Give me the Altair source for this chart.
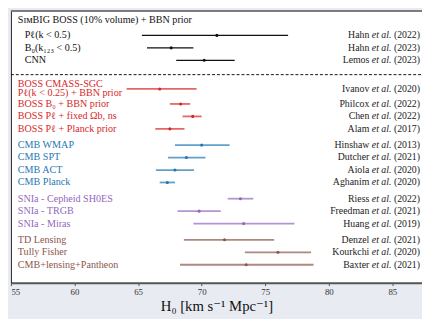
import altair as alt
import pandas as pd

labels = ["Pℓ(k < 0.5)", "B₀(k₁₂₃ < 0.5)", "CNN",
          "BOSS CMASS-SGC\nPℓ(k < 0.25) + BBN prior", "BOSS B₀ + BBN prior",
          "BOSS Pℓ + fixed Ωb, ns", "BOSS Pℓ + Planck prior",
          "CMB WMAP", "CMB SPT", "CMB ACT", "CMB Planck",
          "SNIa - Cepheid SH0ES", "SNIa - TRGB", "SNIa - Miras",
          "TD Lensing", "Tully Fisher", "CMB+lensing+Pantheon"]
authors = ["Hahn", "Hahn", "Lemos", "Ivanov", "Philcox", "Chen", "Alam",
           "Hinshaw", "Dutcher", "Aiola", "Aghanim", "Riess", "Freedman", "Huang",
           "Denzel", "Kourkchi", "Baxter"]
years = [2022, 2023, 2023, 2020, 2022, 2022, 2017, 2013, 2021, 2020, 2020,
         2022, 2021, 2019, 2021, 2020, 2021]
groups = ["SimBIG"] * 3 + ["BOSS"] * 4 + ["CMB"] * 4 + ["SNIa"] * 3 + ["Other"] * 3
h0 = [71.2, 67.6, 70.2, 66.7, 68.35, 69.3, 67.5, 70.0, 68.8, 67.9, 67.3,
      73.05, 69.8, 73.3, 71.8, 76.0, 73.5]
h0_lo = [65.3, 65.7, 68.0, 64.1, 67.5, 68.5, 66.35, 67.9, 67.35, 66.4, 66.7,
         72.05, 68.1, 69.35, 68.6, 73.4, 68.3]
h0_hi = [76.8, 69.35, 72.6, 69.6, 69.1, 70.0, 68.65, 72.2, 70.3, 69.4, 67.9,
         74.06, 71.5, 77.3, 75.7, 78.6, 78.8]
title_text = "SɪᴍBIG BOSS (10% volume) + BBN prior"

group_order = ["SimBIG", "BOSS", "CMB", "SNIa", "Other"]
group_colors = ["#111111", "#d62728", "#1f77b4", "#9467bd", "#8c564b"]

# vertical slot of each row (row order with extra gaps between groups)
slots = []
for i, g in enumerate(groups):
    gi = group_order.index(g)
    s = i + 0.3 * gi + (1.0 if gi >= 1 else 0.0) + (0.2 if i >= 4 else 0.0)
    slots.append(s)

df = pd.DataFrame({
    "label": labels, "author": authors, "year": [f"({y})" for y in years],
    "group": groups, "h0": h0, "lo": h0_lo, "hi": h0_hi, "slot": slots,
})
df["multi"] = df["label"].str.contains("\n")

W, H = 419, 277
FONT = "Liberation Serif, DejaVu Serif, serif"

xscale = alt.Scale(domain=[55, 55 + W / 12.96], nice=False, zero=False)
yscale = alt.Scale(domain=[-1.96, 19.84], nice=False, zero=False, reverse=True)
cscale = alt.Scale(domain=group_order, range=group_colors)

base = alt.Chart(df)

y_enc = alt.Y("slot:Q", scale=yscale,
              axis=alt.Axis(labels=False, ticks=False, title=None, grid=False,
                            domainColor="#222222", domainWidth=1))

bars_black = base.transform_filter(alt.datum.group == "SimBIG").mark_rule(
    strokeWidth=1.3).encode(
    x=alt.X("lo:Q", scale=xscale,
            axis=alt.Axis(values=[55, 60, 65, 70, 75, 80, 85], grid=False,
                          title="H₀ [km s⁻¹ Mpc⁻¹]", titleFont=FONT,
                          titleFontSize=15, titleFontWeight="normal",
                          titleColor="#111111", titlePadding=2,
                          labelFont=FONT, labelFontSize=9, labelColor="#333333",
                          labelPadding=2, tickSize=3, tickColor="#555555",
                          domainColor="#555555", domainWidth=2)),
    x2="hi:Q",
    y=y_enc,
    color=alt.Color("group:N", scale=cscale, legend=None),
)

bars_col = base.transform_filter(alt.datum.group != "SimBIG").mark_rule(
    strokeWidth=1.8, opacity=0.7).encode(
    x=alt.X("lo:Q", scale=xscale), x2="hi:Q",
    y=alt.Y("slot:Q", scale=yscale),
    color=alt.Color("group:N", scale=cscale, legend=None),
)

dots = base.mark_circle(size=10, opacity=1).encode(
    x=alt.X("h0:Q", scale=xscale),
    y=alt.Y("slot:Q", scale=yscale),
    color=alt.Color("group:N", scale=cscale, legend=None),
)

def label_layer(filt, xpos, dy):
    return base.transform_filter(filt).mark_text(
        align="left", baseline="middle", font=FONT, fontSize=10.3,
        lineBreak="\n", lineHeight=10, dy=dy).encode(
        x=alt.value(xpos),
        y=alt.Y("slot:Q", scale=yscale),
        text="label:N",
        color=alt.Color("group:N", scale=cscale, legend=None),
    )

lab_simbig = label_layer(alt.datum.group == "SimBIG", 14, 0)
lab_multi = label_layer(alt.datum.multi, 7, -5.5)
lab_rest = label_layer((alt.datum.group != "SimBIG") & (~alt.datum.multi), 7, 0)

cite_year = base.mark_text(align="right", baseline="middle", font=FONT,
                           fontSize=10, color="#222222").encode(
    x=alt.value(417), y=alt.Y("slot:Q", scale=yscale), text="year:N")
cite_etal = base.mark_text(align="right", baseline="middle", font=FONT,
                           fontSize=10, fontStyle="italic", color="#222222",
                           dx=-29.2).encode(
    x=alt.value(417), y=alt.Y("slot:Q", scale=yscale), text=alt.value("et al."))
cite_name = base.mark_text(align="right", baseline="middle", font=FONT,
                           fontSize=10, color="#222222", dx=-51.7).encode(
    x=alt.value(417), y=alt.Y("slot:Q", scale=yscale), text="author:N")

title_mark = alt.Chart(pd.DataFrame({"t": [title_text]})).mark_text(
    align="left", baseline="middle", font=FONT, fontSize=10.3,
    color="#111111").encode(
    x=alt.value(7), y=alt.datum(-1.26), text="t:N")

dash = alt.Chart(pd.DataFrame({"d": [3.15]})).mark_rule(
    strokeDash=[3, 2], color="#111111", strokeWidth=1).encode(
    x=alt.value(0), x2=alt.value(W), y=alt.Y("d:Q", scale=yscale))

top_border = alt.Chart(pd.DataFrame({"d": [0]})).mark_rule(
    color="#555555", strokeWidth=1.6).encode(
    x=alt.value(0), x2=alt.value(W), y=alt.value(0))

chart = alt.layer(
    bars_black, bars_col, dots, lab_simbig, lab_multi, lab_rest,
    cite_year, cite_etal, cite_name, title_mark, dash, top_border,
).properties(
    width=W, height=H,
    autosize=alt.AutoSizeParams(type="none"),
    padding={"left": 3, "top": 0, "right": 0, "bottom": 34},
    background="#e8ecf2",
).configure_view(
    stroke=None, fill="white",
)

chart.save("out.html", embed_options={"renderer": "svg", "actions": False})
